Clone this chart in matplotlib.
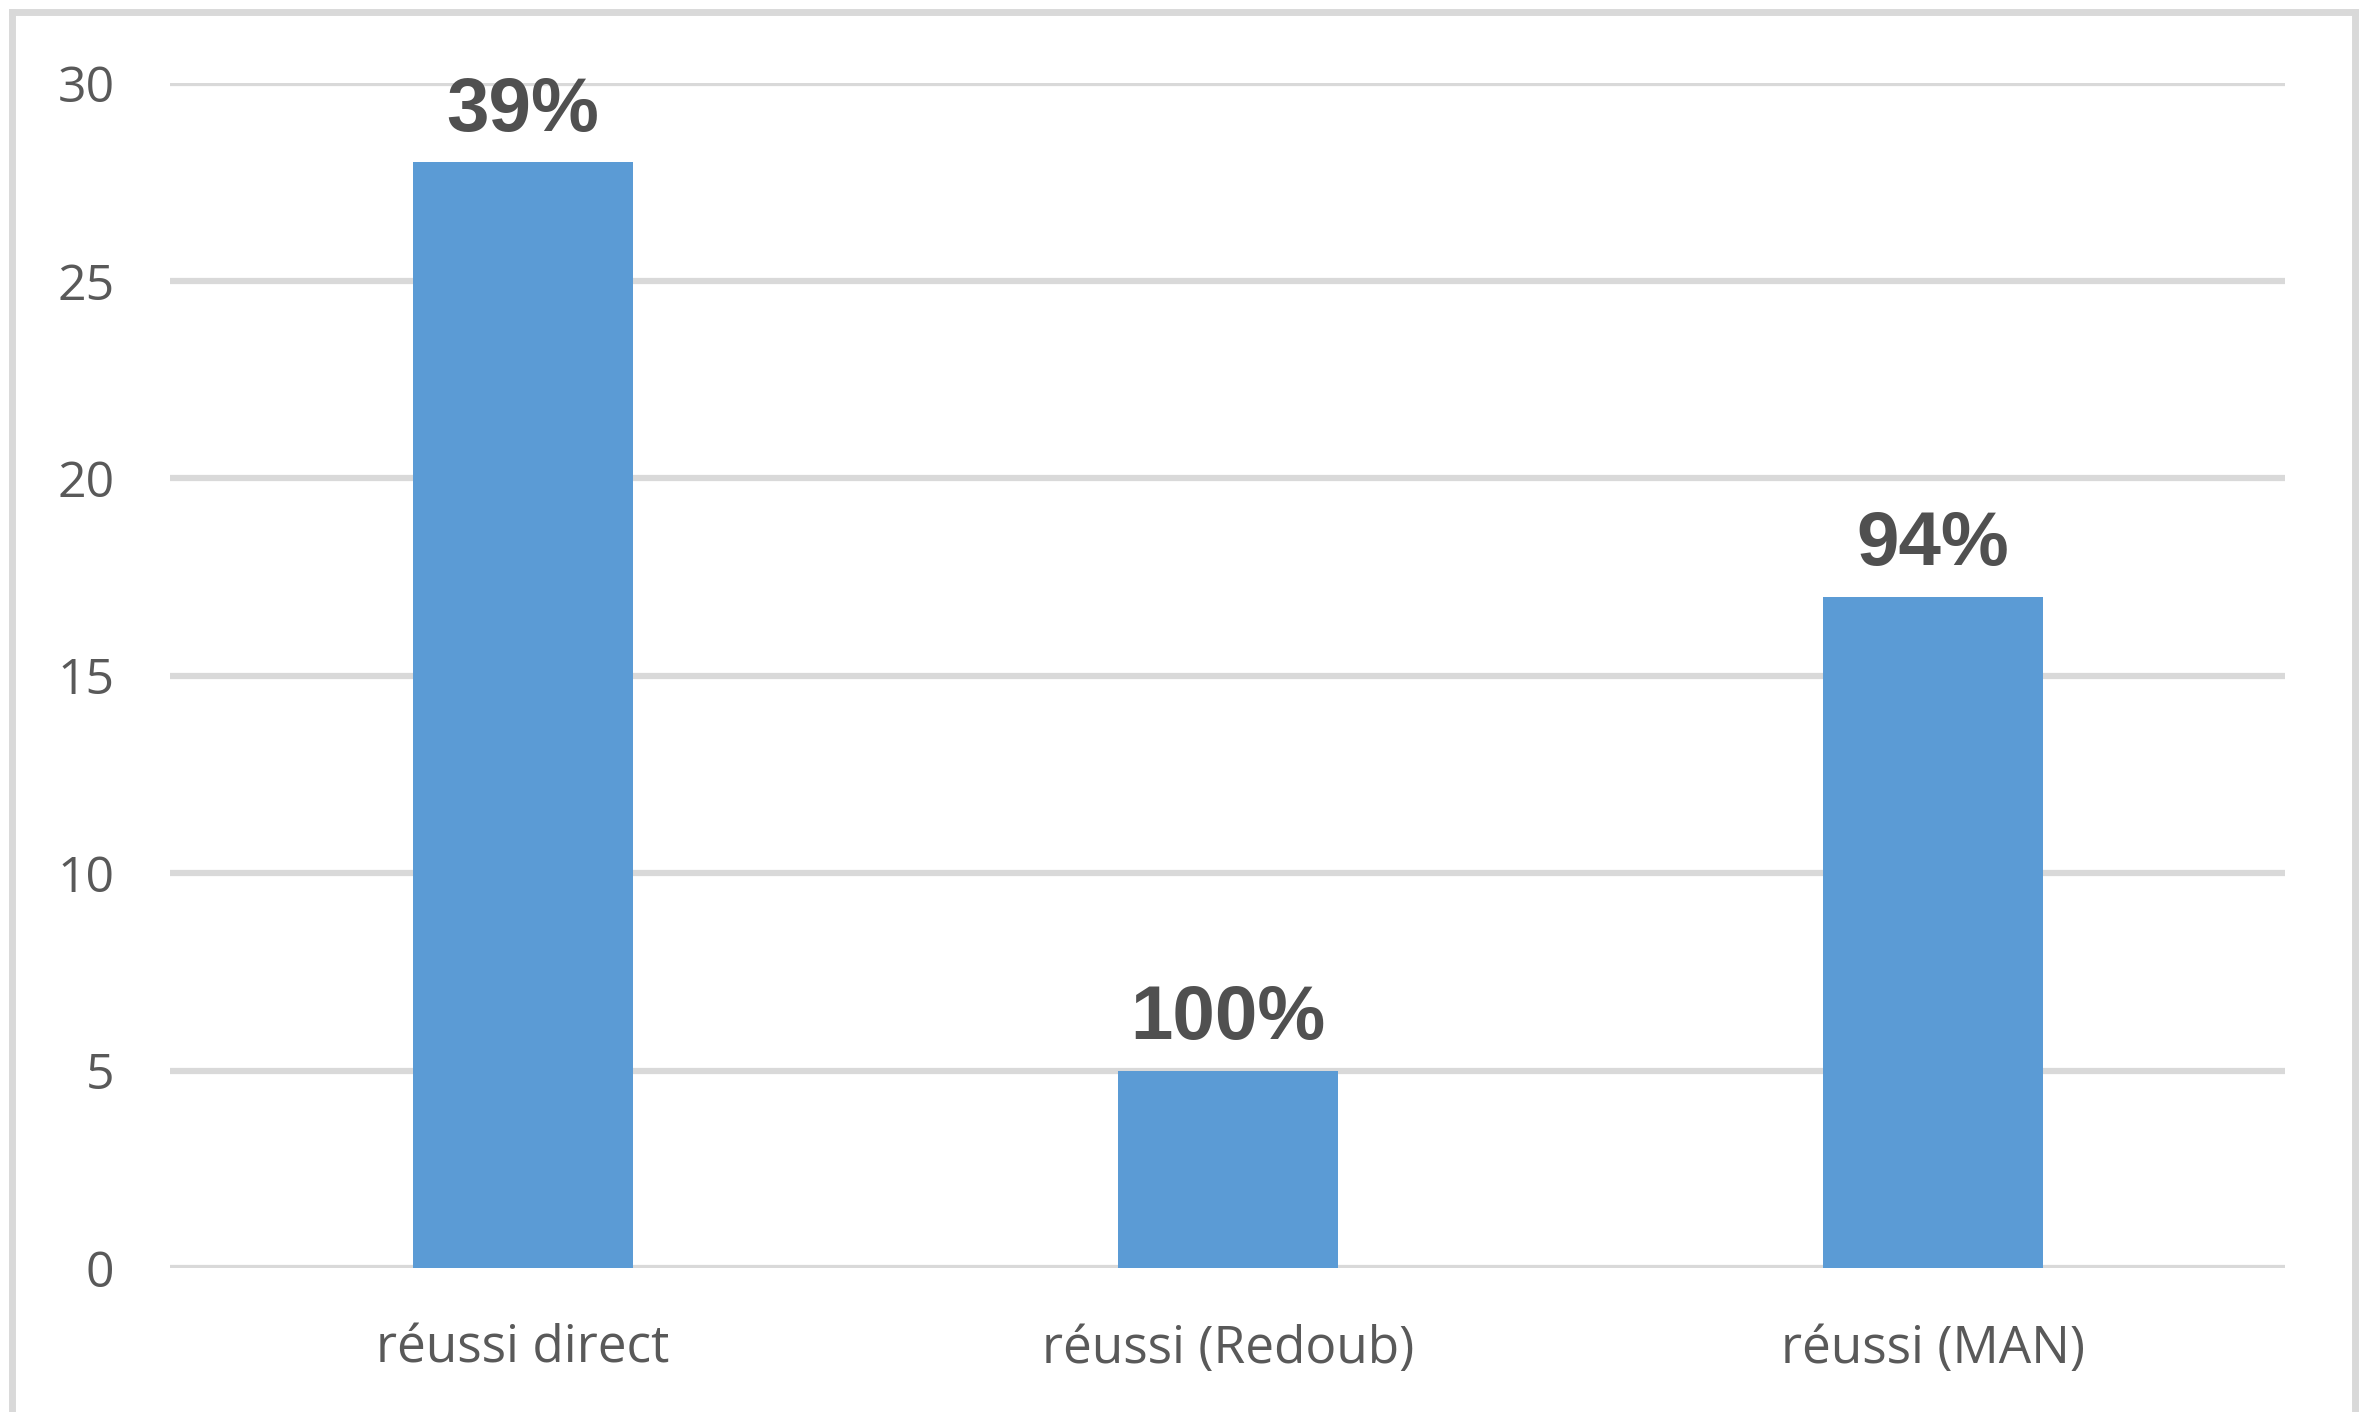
import matplotlib
matplotlib.use('Agg')
import matplotlib.pyplot as plt
from matplotlib.lines import Line2D

# data
categories = ['réussi direct', 'réussi (Redoub)', 'réussi (MAN)']
counts = [28, 5, 17]
pct_labels = ['39%', '100%', '94%']
yticks = [0, 5, 10, 15, 20, 25, 30]

fig = plt.figure(figsize=(23.61, 14.12), dpi=100)
ax = fig.add_axes([0.072, 0.102, 0.896, 0.839])

x = range(len(categories))
bars = ax.bar(x, counts, width=0.312, color='#5b9bd5', zorder=3)

for b, lab in zip(bars, pct_labels):
    ax.annotate(lab, (b.get_x() + b.get_width() / 2, b.get_height()),
                xytext=(0, 11), textcoords='offset points',
                ha='center', va='bottom', fontsize=55, fontweight='bold',
                color='#505050', family='Liberation Sans')

ax.set_xlim(-0.5, 2.5)
ax.set_ylim(0, 30)
ax.set_yticks(yticks)
ax.set_xticks(list(x))
ax.set_xticklabels(categories)
ax.grid(axis='y', color='#d9d9d9', linewidth=4.5, zorder=0)
ax.tick_params(axis='both', length=0, labelcolor='#595959')
ax.tick_params(axis='y', pad=40, labelsize=36)
ax.tick_params(axis='x', pad=40, labelsize=37)
for t in ax.get_xticklabels() + ax.get_yticklabels():
    t.set_family('Open Sans')
for s in ax.spines.values():
    s.set_visible(False)

# chart frame (bottom edge is cropped in the original)
W, H = 2361, 1412
c = '#d9d9d9'
fig.add_artist(Line2D([12 / W, 12 / W], [0, 1 - 12 / H], color=c, lw=5, transform=fig.transFigure))
fig.add_artist(Line2D([12 / W, 2355 / W], [1 - 12 / H, 1 - 12 / H], color=c, lw=5, transform=fig.transFigure))
fig.add_artist(Line2D([2355 / W, 2355 / W], [0, 1 - 12 / H], color=c, lw=5, transform=fig.transFigure))

plt.savefig('out.png', dpi=100)
plt.close()
